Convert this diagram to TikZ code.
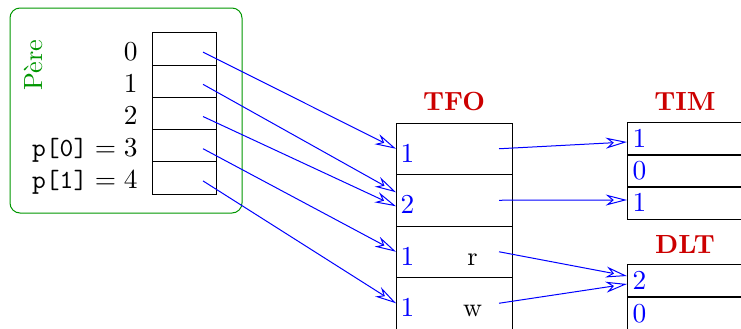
\documentclass[tikz,border=0pt]{standalone}
\usepackage{tikz}
\usetikzlibrary{arrows.meta,positioning,calc}
\definecolor{pgreen}{RGB}{0,150,0}
\definecolor{tred}{RGB}{204,0,0}

\tikzset{
  cellp/.style={draw, line width=0.4pt, outer sep=0pt, inner sep=0pt,
    minimum width=25.6pt, minimum height=12.9pt},
  cellf/.style={draw, line width=0.4pt, outer sep=0pt, inner sep=0pt,
    minimum width=46.4pt, minimum height=20.6pt},
  celli/.style={draw, line width=0.4pt, outer sep=0pt, inner sep=0pt,
    minimum width=46.4pt, minimum height=12.9pt},
  num/.style={inner sep=0pt, text=blue},
  titre/.style={inner sep=0pt, text=tred, font=\bfseries, anchor=base},
  lien/.style={blue, line width=0.4pt,
    -{Stealth[open, length=8.5pt, width=4.4pt, inset=2.6pt]}}
}

\begin{document}
\fontsize{10.5pt}{12.6pt}\selectfont
\begin{tikzpicture}[x=0.4pt, y=-0.4pt]
\clip (0,0) rectangle (741,328);
% processus pere
\draw[pgreen, line width=0.4pt, rounded corners=4pt] (10,8) rectangle (242,213);
\node[rotate=90, text=pgreen] (pere) at (33,65) {Père};
\foreach \i/\lab in {0/$0$, 1/$1$, 2/$2$, 3/{$\texttt{p[0]} = 3$}, 4/{$\texttt{p[1]} = 4$}} {
  \node[cellp] (p\i) at (184,{49.1+32.2*\i}) {};
  \node[inner sep=0pt, anchor=base east] (l\i) at ($(p\i.west)+(-14,11)$) {\lab};
}
% table des fichiers ouverts
\foreach \i in {1,...,4}
  \node[cellf] (tfo\i) at (454,{148.75+51.5*(\i-1)}) {};
\node[titre] (ttfo) at ($(tfo1.north)+(0,-12.5)$) {TFO};
\foreach \i/\c in {1/1, 2/2, 3/1, 4/1}
  \node[num, anchor=base west] (n\i) at ($(tfo\i.north west)+(4,39)$) {$\c$};
\node[inner sep=0pt, anchor=base] (mr) at ($(tfo3.north west)+(76.5,39)$) {r};
\node[inner sep=0pt, anchor=base] (mw) at ($(tfo4.north west)+(76.5,39)$) {w};
% table des i-noeuds
\foreach \i/\c in {1/1, 2/0, 3/1} {
  \node[celli] (tim\i) at (685,{139+32*(\i-1)}) {};
  \node[num, anchor=west] (v\i) at ($(tim\i.west)+(5,0)$) {$\c$};
}
\node[titre] (ttim) at ($(tim1.north)+(0,-12)$) {TIM};
% table des lignes
\foreach \i/\c in {1/2, 2/0} {
  \node[celli] (dlt\i) at (685,{280.5+33*(\i-1)}) {};
  \node[num, anchor=west] (d\i) at ($(dlt\i.west)+(5,0)$) {$\c$};
}
\node[titre] (tdlt) at ($(dlt1.north)+(0,-11)$) {DLT};
% descripteurs vers TFO
\draw[lien] ([shift={(19,3)}]p0.center) -- (tfo1.west);
\draw[lien] ([shift={(19,3)}]p1.center) -- ([shift={(0,-8)}]tfo2.west);
\draw[lien] ([shift={(19,3)}]p2.center) -- ([shift={(0,6)}]tfo2.west);
\draw[lien] ([shift={(19,3)}]p3.center) -- (tfo3.west);
\draw[lien] ([shift={(19,3)}]p4.center) -- (tfo4.west);
% TFO vers TIM et DLT
\draw[lien] ([shift={(-13,0)}]tfo1.east) -- ([shift={(0,3)}]tim1.west);
\draw[lien] ([shift={(-13,0)}]tfo2.east) -- ([shift={(0,-3)}]tim3.west);
\draw[lien] ([shift={(-13,0)}]tfo3.east) -- ([shift={(0,-4.5)}]dlt1.west);
\draw[lien] ([shift={(-13,0)}]tfo4.east) -- ([shift={(0,3.5)}]dlt1.west);
\end{tikzpicture}
\end{document}
